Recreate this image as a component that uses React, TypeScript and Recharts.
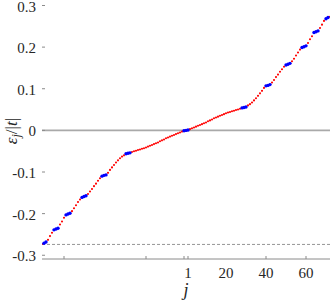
import { ScatterChart, Scatter, XAxis, YAxis, ReferenceLine } from "recharts";

const FONT = "'Liberation Serif', 'Times New Roman', serif";
const AXIS = "#8a8a8a";
const TEXT = "#262626";

// site index j runs from J_START upward, one energy per site
const J_START = -72;
const energyNeg = [
  -0.273, -0.271, -0.268, -0.263, -0.254, -0.246, -0.239, -0.237, -0.235, -0.226,
  -0.219, -0.21, -0.203, -0.201, -0.199, -0.194, -0.187, -0.18, -0.172, -0.166,
  -0.161, -0.159, -0.157, -0.153, -0.147, -0.141, -0.134, -0.128, -0.121, -0.115,
  -0.11, -0.108, -0.107, -0.102, -0.095, -0.089, -0.083, -0.077, -0.072, -0.067,
  -0.063, -0.06, -0.056, -0.055, -0.054, -0.052, -0.05, -0.049, -0.047, -0.046,
  -0.044, -0.043, -0.041, -0.039, -0.037, -0.035, -0.033, -0.031, -0.029, -0.026,
  -0.024, -0.022, -0.019, -0.017, -0.015, -0.013, -0.011, -0.009, -0.007, -0.005,
  -0.003, -0.001,
];
const energyPos = [
  0.0, 0.001, 0.003, 0.005, 0.007, 0.009, 0.011, 0.013, 0.015, 0.017,
  0.019, 0.022, 0.024, 0.026, 0.029, 0.031, 0.033, 0.035, 0.037, 0.039,
  0.041, 0.043, 0.044, 0.046, 0.047, 0.049, 0.05, 0.052, 0.054, 0.055,
  0.056, 0.06, 0.063, 0.067, 0.072, 0.077, 0.083, 0.089, 0.095, 0.102,
  0.107, 0.108, 0.11, 0.115, 0.121, 0.128, 0.134, 0.141, 0.147, 0.153,
  0.157, 0.159, 0.161, 0.166, 0.172, 0.18, 0.187, 0.194, 0.199, 0.201,
  0.203, 0.21, 0.219, 0.226, 0.235, 0.237, 0.239, 0.246, 0.254, 0.263,
  0.268, 0.271, 0.273,
];
// sites sitting on the flat steps (blue)
const plateauSites = [
  -71, -70, -66, -65, -64, -60, -59, -58, -52, -51, -50, -42, -41, -40, -30, -29, -28,
  -1, 0, 1,
  28, 29, 30, 40, 41, 42, 50, 51, 52, 58, 59, 60, 64, 65, 66, 70, 71,
];

const yTicks = [-0.3, -0.2, -0.1, 0, 0.1, 0.2, 0.3];
const xTicks = [-61, -20, -1, 1, 20, 40, 60];
const xTickLabels = ["", "", "", "1", "20", "40", "60"];
const xTickMarks = [true, true, true, true, false, true, true];
const dashedLevel = -0.274;

const points = [...energyNeg, ...energyPos].map((e, i) => ({ j: J_START + i, e }));
const plateau = points.filter((p) => plateauSites.includes(p.j));

const BottomTick = ({ x, y, payload }: any) => {
  const i = xTicks.indexOf(payload.value);
  return (
    <g>
      {xTickMarks[i] && <line x1={x} x2={x} y1={y} y2={y - 3} stroke={AXIS} />}
      <text x={x} y={y + 19} textAnchor="middle" fontFamily={FONT} fontSize={15} fill={TEXT}>
        {xTickLabels[i]}
      </text>
    </g>
  );
};

const TopTick = ({ x, y, payload }: any) => {
  const i = xTicks.indexOf(payload.value);
  return xTickMarks[i] ? <line x1={x} x2={x} y1={y} y2={y + 3} stroke={AXIS} /> : <g />;
};

const LeftTick = ({ x, y, payload }: any) => (
  <g>
    <line x1={x} x2={x + 3} y1={y} y2={y} stroke={AXIS} />
    <text x={x - 6} y={y + 6} textAnchor="end" fontFamily={FONT} fontSize={15} fill={TEXT}>
      {payload.value === 0 ? "0" : payload.value.toFixed(1)}
    </text>
  </g>
);

const RightTick = ({ x, y }: any) => <line x1={x} x2={x - 3} y1={y} y2={y} stroke={AXIS} />;

const YLabel = ({ viewBox }: any) => {
  const cx = viewBox.x + 17;
  const cy = viewBox.y + viewBox.height / 2;
  return (
    <text transform={`rotate(-90 ${cx} ${cy})`} x={cx} y={cy} textAnchor="middle" fontFamily={FONT} fontSize={17} fill={TEXT}>
      <tspan fontStyle="italic">ε</tspan>
      <tspan fontStyle="italic" fontSize={12} dy={3}>j</tspan>
      <tspan dy={-3}>/|</tspan>
      <tspan fontStyle="italic">t</tspan>
      <tspan>|</tspan>
    </text>
  );
};

const XLabel = ({ viewBox }: any) => (
  <text x={viewBox.x + viewBox.width / 2} y={viewBox.y + 37} textAnchor="middle" fontFamily={FONT} fontSize={18} fontStyle="italic" fill={TEXT}>
    j
  </text>
);

export default function App() {
  return (
    <div style={{ position: "absolute", left: 0, top: 0, background: "#fff" }}>
      <ScatterChart width={332} height={303} margin={{ top: 3, right: 2, bottom: 0, left: 0 }}>
        <XAxis xAxisId="b" dataKey="j" type="number" domain={[-72, 72]} allowDataOverflow ticks={xTicks} interval={0}
          tick={<BottomTick />} tickLine={false} tickSize={0} tickMargin={0} height={44}
          axisLine={{ stroke: AXIS }} label={<XLabel />} />
        <XAxis xAxisId="t" orientation="top" type="number" domain={[-72, 72]} allowDataOverflow ticks={xTicks} interval={0}
          tick={<TopTick />} tickLine={false} tickSize={0} tickMargin={0} height={0} axisLine={{ stroke: AXIS }} />
        <YAxis yAxisId="l" dataKey="e" type="number" domain={[-0.309, 0.306]} allowDataOverflow ticks={yTicks} interval={0}
          tick={<LeftTick />} tickLine={false} tickSize={0} tickMargin={0} width={42} axisLine={false} label={<YLabel />} />
        <YAxis yAxisId="r" orientation="right" type="number" domain={[-0.309, 0.306]} allowDataOverflow ticks={yTicks} interval={0}
          tick={<RightTick />} tickLine={false} tickSize={0} tickMargin={0} width={0} axisLine={{ stroke: AXIS }} />
        <ReferenceLine xAxisId="b" yAxisId="l" y={0} stroke="#a9a9a9" strokeWidth={1.6} />
        <ReferenceLine xAxisId="b" yAxisId="l" y={dashedLevel} stroke="#7a7a7a" strokeWidth={0.8} strokeDasharray="3 2" />
        <Scatter xAxisId="b" yAxisId="l" data={points} isAnimationActive={false}
          shape={(p: any) => <circle cx={p.cx} cy={p.cy} r={1.05} fill="#ff0000" />} />
        <Scatter xAxisId="b" yAxisId="l" data={plateau} isAnimationActive={false}
          shape={(p: any) => <circle cx={p.cx} cy={p.cy} r={1.7} fill="#0000ff" />} />
      </ScatterChart>
    </div>
  );
}
